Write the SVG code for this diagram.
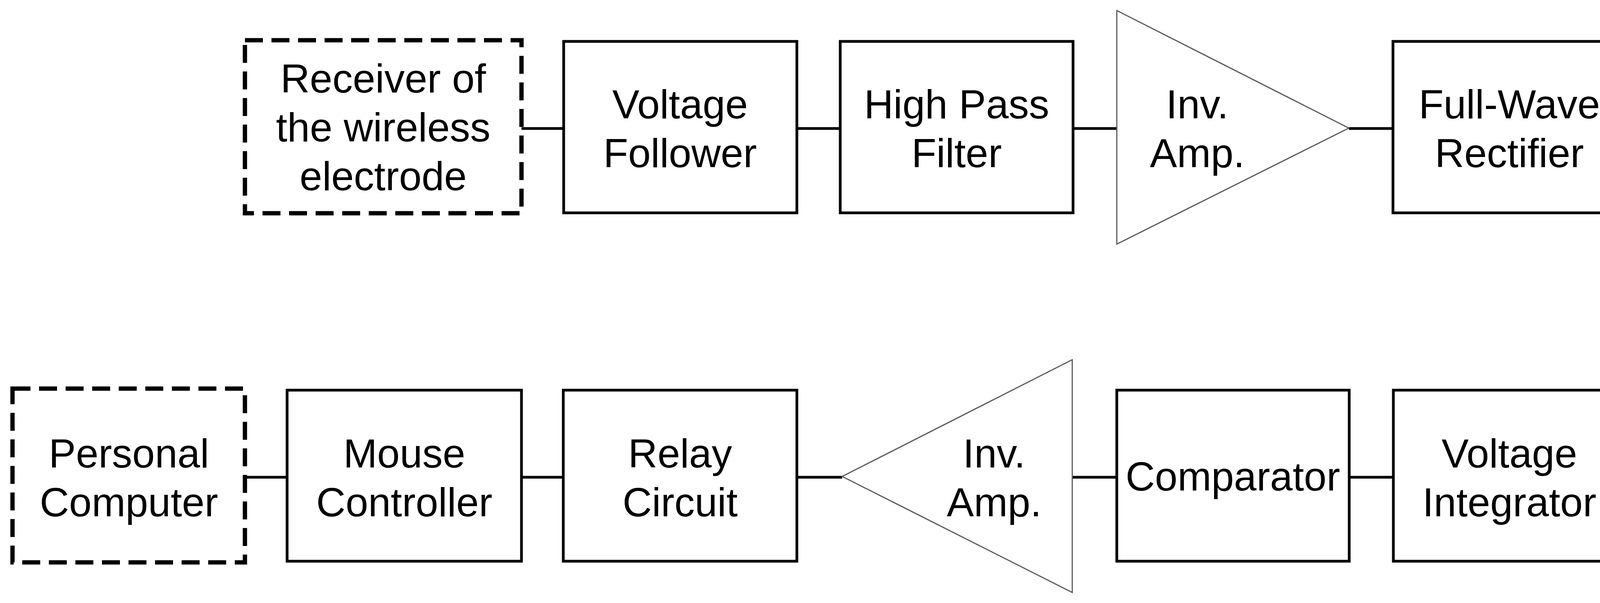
<svg xmlns="http://www.w3.org/2000/svg" width="4298" height="1544" viewBox="0 0 4298 1544">
<style>
.box{fill:#fff;stroke:#000;stroke-width:7}
.dash{fill:#fff;stroke:#000;stroke-width:11;stroke-dasharray:46 22}
.amp{fill:#fff;stroke:#5a5a5a;stroke-width:3}
.wire{fill:none;stroke:#000;stroke-width:7}
text{font-family:"Liberation Sans",Arial,sans-serif;font-size:104px;fill:#000;text-anchor:middle}
</style>
<rect width="4298" height="1544" fill="#fff"/>
<g id="connectors">
<line class="wire" x1="1335" y1="329" x2="1443" y2="329"/>
<line class="wire" x1="2040" y1="329" x2="2151" y2="329"/>
<line class="wire" x1="2747" y1="329" x2="2859" y2="329"/>
<line class="wire" x1="3453" y1="329" x2="3566" y2="329"/>
<polyline class="wire" points="4162,329 4274,329 4274,1222 4162,1222"/>
<line class="wire" x1="3454" y1="1222" x2="3567" y2="1222"/>
<line class="wire" x1="2745" y1="1222" x2="2859" y2="1222"/>
<line class="wire" x1="2040" y1="1222" x2="2156" y2="1222"/>
<line class="wire" x1="1335" y1="1222" x2="1442" y2="1222"/>
<line class="wire" x1="627" y1="1222" x2="735" y2="1222"/>
</g>
<g id="receiver">
<rect class="dash" x="627" y="103" width="708" height="443"/>
<text x="981" y="237">Receiver of</text>
<text x="981" y="362">the wireless</text>
<text x="981" y="487">electrode</text>
</g>
<g id="voltage-follower">
<rect class="box" x="1443" y="106" width="597" height="439"/>
<text x="1741" y="303">Voltage</text>
<text x="1741" y="428">Follower</text>
</g>
<g id="high-pass-filter">
<rect class="box" x="2151" y="106" width="596" height="439"/>
<text x="2449" y="303">High Pass</text>
<text x="2449" y="428">Filter</text>
</g>
<g id="inv-amp-1">
<polygon class="amp" points="2859,27 3453,328 2859,625"/>
<text x="3065" y="303">Inv.</text>
<text x="3065" y="428">Amp.</text>
</g>
<g id="full-wave-rectifier">
<rect class="box" x="3566" y="106" width="596" height="439"/>
<text x="3864" y="303">Full-Wave</text>
<text x="3864" y="428">Rectifier</text>
</g>
<g id="voltage-integrator">
<rect class="box" x="3567" y="999" width="595" height="438"/>
<text x="3864" y="1197">Voltage</text>
<text x="3864" y="1322">Integrator</text>
</g>
<g id="comparator">
<rect class="box" x="2859" y="999" width="595" height="438"/>
<text x="3156" y="1256">Comparator</text>
</g>
<g id="inv-amp-2">
<polygon class="amp" points="2745,921 2156,1220 2745,1517"/>
<text x="2545" y="1197">Inv.</text>
<text x="2545" y="1322">Amp.</text>
</g>
<g id="relay-circuit">
<rect class="box" x="1442" y="999" width="598" height="438"/>
<text x="1741" y="1197">Relay</text>
<text x="1741" y="1322">Circuit</text>
</g>
<g id="mouse-controller">
<rect class="box" x="735" y="999" width="600" height="438"/>
<text x="1035" y="1197">Mouse</text>
<text x="1035" y="1322">Controller</text>
</g>
<g id="personal-computer">
<rect class="dash" x="32" y="995" width="595" height="445"/>
<text x="330" y="1197">Personal</text>
<text x="330" y="1322">Computer</text>
</g>
</svg>
